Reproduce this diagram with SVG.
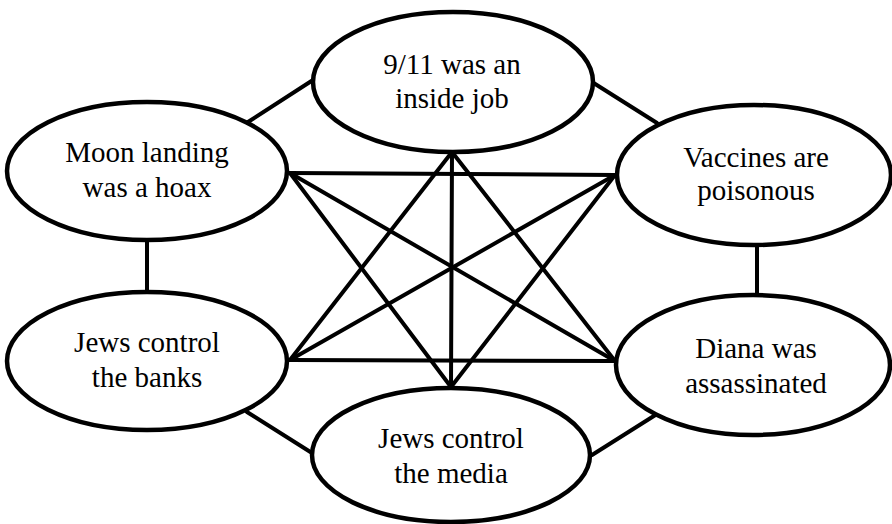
<svg xmlns="http://www.w3.org/2000/svg" width="892" height="524" viewBox="0 0 892 524">
  <style>
    .node ellipse { fill: #ffffff; stroke: #000000; stroke-width: 4.5; }
    .node text { font-family: 'Liberation Serif', 'Times New Roman', serif; font-size: 29px; fill: #000000; text-anchor: middle; }
    #connectors line { stroke: #000000; stroke-width: 4; stroke-linecap: round; }
  </style>
  <rect width="892" height="524" fill="#ffffff"/>

  <!-- connectors: ring around the outside, full web across the middle -->
  <g id="connectors">
    <!-- outer ring -->
    <line x1="248" y1="122" x2="313" y2="80"/>
    <line x1="592" y1="82" x2="657" y2="123"/>
    <line x1="757" y1="244" x2="757" y2="295"/>
    <line x1="592" y1="455" x2="657" y2="414"/>
    <line x1="247" y1="412" x2="312" y2="453"/>
    <line x1="147" y1="240" x2="147" y2="292"/>
    <!-- inner web -->
    <line x1="290" y1="173" x2="615" y2="175"/>
    <line x1="290" y1="360" x2="615" y2="361"/>
    <line x1="452" y1="152" x2="451" y2="387"/>
    <line x1="452" y1="152" x2="290" y2="360"/>
    <line x1="452" y1="152" x2="615" y2="361"/>
    <line x1="290" y1="173" x2="615" y2="361"/>
    <line x1="290" y1="173" x2="451" y2="387"/>
    <line x1="615" y1="175" x2="290" y2="360"/>
    <line x1="615" y1="175" x2="451" y2="387"/>
  </g>

  <g id="inside-job" class="node">
    <ellipse cx="453" cy="82" rx="140" ry="70"/>
    <text x="452" y="74">9/11 was an</text>
    <text x="452" y="108">inside job</text>
  </g>

  <g id="moon-landing" class="node">
    <ellipse cx="147" cy="171" rx="140" ry="69"/>
    <text x="147" y="162">Moon landing</text>
    <text x="147" y="197">was a hoax</text>
  </g>

  <g id="vaccines" class="node">
    <ellipse cx="754" cy="175" rx="137" ry="70"/>
    <text x="756" y="167">Vaccines are</text>
    <text x="756" y="200">poisonous</text>
  </g>

  <g id="banks" class="node">
    <ellipse cx="147" cy="361" rx="140" ry="69"/>
    <text x="147" y="352">Jews control</text>
    <text x="147" y="387">the banks</text>
  </g>

  <g id="diana" class="node">
    <ellipse cx="753" cy="365" rx="137" ry="70"/>
    <text x="756" y="358">Diana was</text>
    <text x="756" y="393">assassinated</text>
  </g>

  <g id="media" class="node">
    <ellipse cx="451" cy="455" rx="139" ry="67"/>
    <text x="451" y="448">Jews control</text>
    <text x="451" y="483">the media</text>
  </g>
</svg>
